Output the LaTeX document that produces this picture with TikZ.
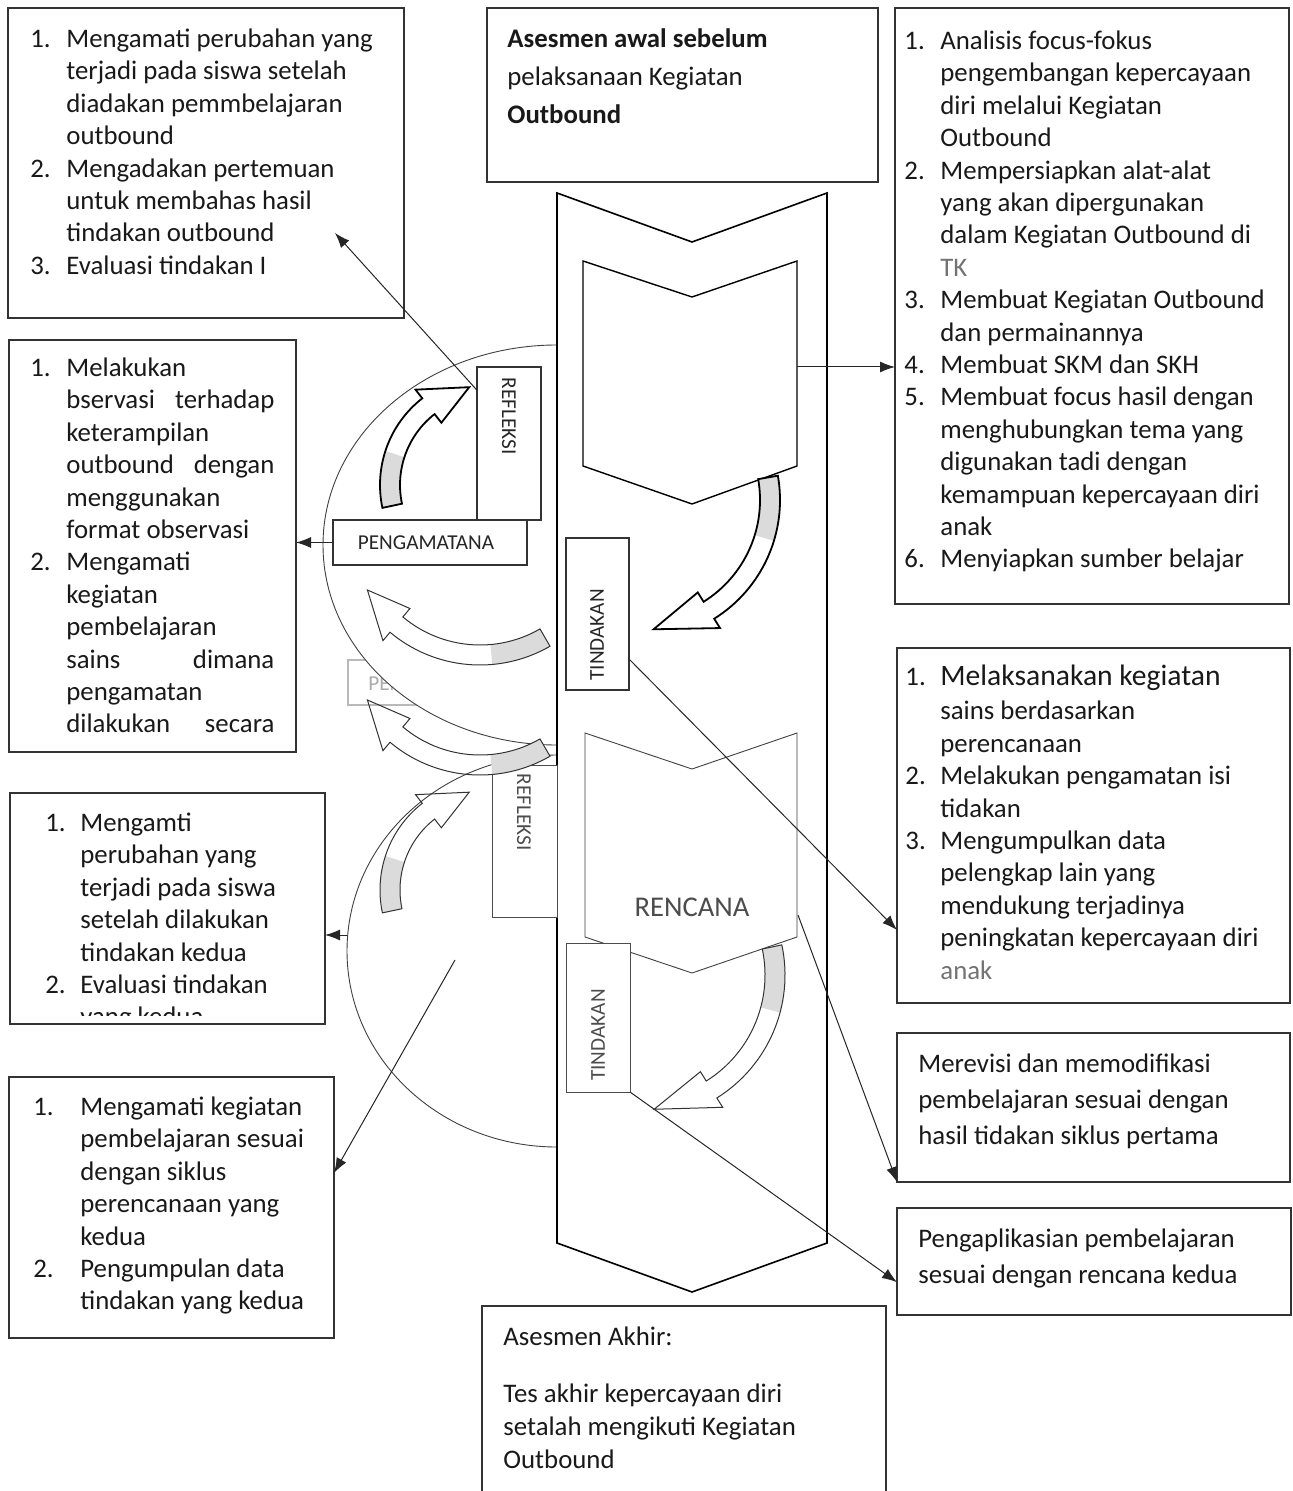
\documentclass[tikz,border=0pt]{standalone}
\usepackage{fontspec}
\setmainfont{Carlito}
\usetikzlibrary{arrows.meta}
\newcommand\itm[2]{\makebox[#1][l]{#2}}
\newcommand\ind[1]{\hspace*{#1}}
\newcommand\jst[1]{\makebox[104pt][s]{#1}}
\newcommand\bx[6][]{\node[boxst,#1,minimum width={(#5-#3)*0.5pt},minimum height={(#6-#4)*0.5pt}] (#2) at ({(#3+#5)/2},{(#4+#6)/2}) {};}
\newcommand\cpath[4]{({#2}:{#1+10}) arc[start angle={#2},end angle={#3},radius={#1+10}] -- ({#3}:{#1+21}) -- ({#4}:{#1}) -- ({#3}:{#1-21}) -- ({#3}:{#1-10}) arc[start angle={#3},end angle={#2},radius={#1-10}] -- cycle}
\newcommand\carrow[8]{%
\begin{scope}[shift={(#2,#3)}]
\fill[gray!28] ({#5}:{#4+10}) arc[start angle={#5},end angle={#8},radius={#4+10}] -- ({#8}:{#4-10}) arc[start angle={#8},end angle={#5},radius={#4-10}] -- cycle;
\draw[line join=miter,#1] \cpath{#4}{#5}{#6}{#7};
\end{scope}}
\begin{document}
\begin{tikzpicture}[x=0.5pt,y=-0.5pt,
  boxst/.style={draw=black!80,line width=0.65pt,fill=white,inner sep=0pt,outer sep=0pt},
  txt/.style={font=\fontsize{13.4}{16.2}\selectfont,align=left,inner sep=0pt,anchor=north west,text=black!90},
  lbl/.style={font=\fontsize{10.6}{12}\selectfont,inner sep=0pt,text=black!85},
  conn/.style={draw=black!85,line width=0.5pt,-{Latex[length=7.5pt,width=5.5pt]}},
  chev/.style={draw=black,line width=0.8pt,fill=white,line join=miter},
  ell/.style={draw=black!75,line width=0.45pt,fill=white}]
\fill[white] (0,0) rectangle (1293,1491);
\useasboundingbox (0,0) rectangle (1293,1491);

% ellipses and faded box
\draw[ell] (557,951) ellipse [x radius=210, y radius=196];
\bx[draw=gray!55]{pen}{348}{660}{430}{705}
\node[lbl,text=gray!65,anchor=west] (pent) at (368,684) {PEN};
\draw[ell] (557,545) ellipse [x radius=234, y radius=200];

% central chevrons
\draw[chev] (557,193) -- (692,242) -- (827,193) -- (827,1243) -- (692,1292) -- (557,1243) -- cycle;
\draw[chev,line width=0.7pt] (583,261) -- (692,297) -- (797,261) -- (797,466) -- (692,504) -- (583,466) -- cycle;
\draw[chev,draw=black!75,line width=0.45pt] (585,733) -- (692,769) -- (797,733) -- (797,937) -- (692,973) -- (585,937) -- cycle;
\node[font=\fontsize{14.3}{16}\selectfont,text=black!70,inner sep=0pt] (renc) at (692,907) {RENCANA};
\coordinate (ch1r) at (797,367);
\coordinate (ch2r) at (798,915);

% small label boxes
\bx{refl1}{477}{367}{541}{520}
\node[lbl,rotate=-90] (refl1t) at (509,416) {REFLEKSI};
\bx{peng}{333}{520}{527}{565}
\node[lbl] (pengt) at (426,543) {PENGAMATANA};
\bx{tind1}{566}{538}{629}{690}
\node[lbl,rotate=90] (tind1t) at (597,635) {TINDAKAN};
\bx[draw=black!70,line width=0.5pt]{refl2}{492}{765}{557}{917}
\node[lbl,rotate=-90,text=black!70] (refl2t) at (524,812) {REFLEKSI};
\bx[draw=black!70,line width=0.5pt]{tind2}{566}{943}{630}{1092}
\node[lbl,rotate=90,text=black!70] (tind2t) at (598,1035) {TINDAKAN};

% curved block arrows
\carrow{draw=black,line width=0.9pt}{490}{485}{100}{168}{232}{258}{198}
\carrow{draw=black!80,line width=0.5pt}{480}{525}{130}{60}{130}{150}{85}
\carrow{draw=black,line width=0.9pt}{640}{500}{130}{-10}{58}{84}{17}
\carrow{draw=black!80,line width=0.5pt}{480}{635}{130}{60}{130}{150}{85}
\carrow{draw=black!80,line width=0.5pt}{490}{890}{100}{168}{232}{258}{198}
\carrow{draw=black!80,line width=0.5pt}{640}{975}{135}{-12}{58}{84}{15}

% text boxes
\bx{tl}{8}{8}{404}{318}
\node[txt] (tlt) at (30,24.5) {\strut\itm{18pt}{1.}Mengamati perubahan yang\\
\ind{18pt}terjadi pada siswa setelah\\
\ind{18pt}diadakan pemmbelajaran\\
\ind{18pt}outbound\\
\itm{18pt}{2.}Mengadakan pertemuan\\
\ind{18pt}untuk membahas hasil\\
\ind{18pt}tindakan outbound\\
\itm{18pt}{3.}Evaluasi tindakan I};

\bx{as}{487}{8}{878}{182}
\node[txt,font=\fontsize{13.4}{19}\selectfont] (ast) at (507,20.6) {\strut\textbf{Asesmen awal sebelum}\\
pelaksanaan Kegiatan\\
\textbf{Outbound}};

\bx{tr}{895}{8}{1289}{604}
\node[txt] (trt) at (904,26.5) {\strut\itm{18pt}{1.}Analisis focus-fokus\\
\ind{18pt}pengembangan kepercayaan\\
\ind{18pt}diri melalui Kegiatan\\
\ind{18pt}Outbound\\
\itm{18pt}{2.}Mempersiapkan alat-alat\\
\ind{18pt}yang akan dipergunakan\\
\ind{18pt}dalam Kegiatan Outbound di\\
\ind{18pt}\textcolor{black!55}{TK}\\
\itm{18pt}{3.}Membuat Kegiatan Outbound\\
\ind{18pt}dan permainannya\\
\itm{18pt}{4.}Membuat SKM dan SKH\\
\itm{18pt}{5.}Membuat focus hasil dengan\\
\ind{18pt}menghubungkan tema yang\\
\ind{18pt}digunakan tadi dengan\\
\ind{18pt}kemampuan kepercayaan diri\\
\ind{18pt}anak\\
\itm{18pt}{6.}Menyiapkan sumber belajar};

\bx{l2}{9}{340}{296}{752}
\node[txt] (l2t) at (30,353.5) {\strut\itm{18pt}{1.}Melakukan\\
\ind{18pt}\jst{bservasi terhadap}\\
\ind{18pt}keterampilan\\
\ind{18pt}\jst{outbound dengan}\\
\ind{18pt}menggunakan\\
\ind{18pt}format observasi\\
\itm{18pt}{2.}Mengamati\\
\ind{18pt}kegiatan\\
\ind{18pt}pembelajaran\\
\ind{18pt}\jst{sains dimana}\\
\ind{18pt}pengamatan\\
\ind{18pt}\jst{dilakukan secara}};

\bx{r2}{897}{648}{1290}{1003}
\node[txt] (r2t) at (905,662.5) {\strut\itm{17.5pt}{1.}{\fontsize{14.8}{16.2}\selectfont Melaksanakan kegiatan}\\[1pt]
\ind{17.5pt}sains berdasarkan\\
\ind{17.5pt}perencanaan\\
\itm{17.5pt}{2.}Melakukan pengamatan isi\\
\ind{17.5pt}tidakan\\
\itm{17.5pt}{3.}Mengumpulkan data\\
\ind{17.5pt}pelengkap lain yang\\
\ind{17.5pt}mendukung terjadinya\\
\ind{17.5pt}peningkatan kepercayaan diri\\
\ind{17.5pt}\textcolor{black!55}{anak}};

\bx{l3}{10}{793}{325}{1024}
\begin{scope}
\clip (10,793) rectangle (325,1015);
\node[txt] (l3t) at (45,808.5) {\strut\itm{17.5pt}{1.}Mengamti\\
\ind{17.5pt}perubahan yang\\
\ind{17.5pt}terjadi pada siswa\\
\ind{17.5pt}setelah dilakukan\\
\ind{17.5pt}tindakan kedua\\
\itm{17.5pt}{2.}Evaluasi tindakan\\
\ind{17.5pt}yang kedua};
\end{scope}

\bx{r3}{897}{1033}{1290}{1182}
\node[txt,font=\fontsize{13.4}{18}\selectfont] (r3t) at (918,1047) {\strut Merevisi dan memodifikasi\\
pembelajaran sesuai dengan\\
hasil tidakan siklus pertama};

\bx{bl}{9}{1077}{334}{1338}
\node[txt] (blt) at (33,1092.5) {\strut\itm{23.5pt}{1.}Mengamati kegiatan\\
\ind{23.5pt}pembelajaran sesuai\\
\ind{23.5pt}dengan siklus\\
\ind{23.5pt}perencanaan yang\\
\ind{23.5pt}kedua\\
\itm{23.5pt}{2.}Pengumpulan data\\
\ind{23.5pt}tindakan yang kedua};

\bx{r4}{897}{1208}{1291}{1315}
\node[txt,font=\fontsize{13.4}{18}\selectfont] (r4t) at (918,1222) {\strut Pengaplikasian pembelajaran\\
sesuai dengan rencana kedua};

\bx{bb}{482}{1306}{886}{1520}
\node[txt,font=\fontsize{13.4}{16.5}\selectfont] (bbt) at (503,1322) {\strut Asesmen Akhir:\\[12pt]
Tes akhir kepercayaan diri\\
setalah mengikuti Kegiatan\\
Outbound};

% connectors
\coordinate (tlp) at (335,233);
\coordinate (e2l) at (347,935);
\coordinate (e2c) at (455,960);
\draw[conn] (refl1.121) -- (tlp);
\draw[conn] (ch1r) -- (tr.west |- ch1r);
\draw[conn] (peng.west) -- (l2.east |- peng.west);
\draw[conn] (tind1.-55.6) -- (r2.208);
\draw[conn] (ch2r) -- (r3.south west);
\draw[conn] (tind2.south east) -- (r4.186);
\draw[conn] (e2l) -- (l3.east |- e2l);
\draw[conn] (e2c) -- (bl.12);
\end{tikzpicture}
\end{document}
